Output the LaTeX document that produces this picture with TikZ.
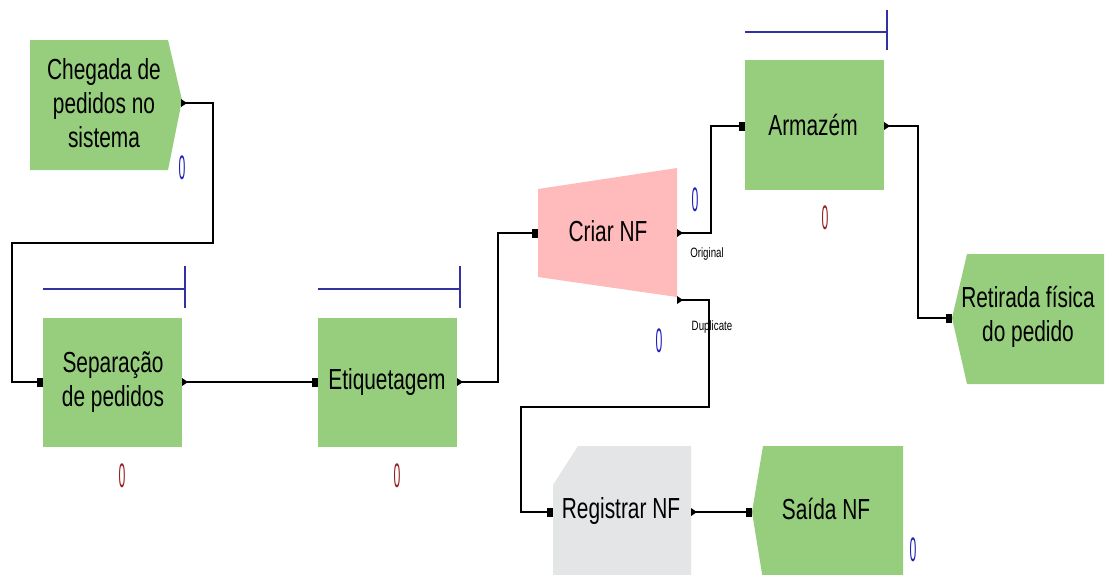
\documentclass[tikz,border=0pt]{standalone}
\usepackage{fontspec}
\setmainfont{Liberation Sans}[FakeStretch=0.72]
\definecolor{armgreen}{RGB}{150,206,126}
\definecolor{armpink}{RGB}{255,187,187}
\definecolor{armgrey}{RGB}{228,229,231}
\definecolor{resblue}{RGB}{50,50,160}
\definecolor{cntblue}{RGB}{30,30,190}
\definecolor{cntred}{RGB}{150,30,30}
\tikzset{
  lbl/.style={font=\fontsize{29}{34}\selectfont, align=center, inner sep=0pt},
  small/.style={font=\fontsize{13.5}{14}\selectfont, inner sep=0pt},
  cnt/.style={font=\fontsize{34}{34}\selectfont, inner sep=0pt},
  inport/.style={rectangle, fill=black, minimum width=6pt, minimum height=9pt, inner sep=0pt},
  conn/.style={draw=black, line width=1.3pt},
  resline/.style={draw=resblue, line width=1.2pt},
  outtri/.pic={\fill[black] (-2,-4) -- (4,0) -- (-2,4) -- cycle;}
}
\newcommand\zcount{\scalebox{0.5}[1]{0}}
\begin{document}
\begin{tikzpicture}[x=1pt,y=-1pt]
\useasboundingbox (0,0) rectangle (1113,574);
\fill[white] (0,0) rectangle (1113,574);

% shapes
\fill[armgreen] (30,40) -- (168,40) -- (182,100) -- (168,170) -- (30,170) -- cycle;
\fill[armgreen] (43,318) rectangle (182,447);
\fill[armgreen] (318,318) rectangle (457,447);
\fill[armpink] (538,189) -- (677,168) -- (677,297) -- (538,277) -- cycle;
\fill[armgreen] (745,60) rectangle (884,190);
\fill[armgreen] (967,254) -- (1104,254) -- (1104,384) -- (967,384) -- (952,318) -- cycle;
\fill[armgrey] (553,485) -- (578,446) -- (691,446) -- (691,580) -- (553,580) -- cycle;
\fill[armgreen] (763,446) -- (903,446) -- (903,580) -- (763,580) -- (752,512) -- cycle;

% labels
\node[lbl] (cheg) at (104,103) {Chegada de\\pedidos no\\sistema};
\node[lbl] (sep) at (113,382) {Separação\\de pedidos};
\node[lbl] (etiq) at (387,382) {Etiquetagem};
\node[lbl] (criar) at (608,231) {Criar NF};
\node[lbl] (arm) at (813,125) {Armazém};
\node[lbl] (ret) at (1028,317) {Retirada física\\do pedido};
\node[lbl] (reg) at (621,511) {Registrar NF};
\node[lbl] (said) at (826,509) {Saída NF};

\node[small] (orig) at (707,254) {Original};
\node[small] (dupl) at (712,327) {Duplicate};

% resource lines
\draw[resline] (43,289) -- (185,289) (185,266) -- (185,308);
\draw[resline] (318,289) -- (460,289) (460,266) -- (460,308);
\draw[resline] (745,32) -- (887,32) (887,10) -- (887,50);

% counters
\node[cnt, text=cntblue] (c1) at (182,168) {\zcount};
\node[cnt, text=cntred] (c2) at (122,476) {\zcount};
\node[cnt, text=cntred] (c3) at (397,476) {\zcount};
\node[cnt, text=cntblue] (c4) at (695,200) {\zcount};
\node[cnt, text=cntblue] (c5) at (659,341) {\zcount};
\node[cnt, text=cntred] (c6) at (825,218) {\zcount};
\node[cnt, text=cntblue] (c7) at (913,550) {\zcount};
\node[cnt, text=cntblue] (c8) at (1116,361) {\zcount};

% ports
\coordinate (chegOut) at (183,103);
\node[inport] (sepIn) at (40,382) {};
\coordinate (sepOut) at (184,382);
\node[inport] (etiqIn) at (315,382) {};
\coordinate (etiqOut) at (459,382);
\node[inport] (criarIn) at (535,233) {};
\coordinate (origOut) at (679,233);
\coordinate (dupOut) at (679,300);
\node[inport] (armIn) at (742,126) {};
\coordinate (armOut) at (886,126);
\node[inport] (retIn) at (949,318) {};
\node[inport] (regIn) at (550,512) {};
\coordinate (regOut) at (693,512);
\node[inport] (saidaIn) at (749,512) {};

% connectors
\draw[conn] (chegOut) -- (213,103) |- (12,243) |- (sepIn);
\draw[conn] (sepOut) -- (etiqIn);
\draw[conn] (etiqOut) -- (498,382) |- (criarIn);
\draw[conn] (origOut) -- (711,233) |- (armIn);
\draw[conn] (dupOut) -- (709,300) |- (521,407) |- (regIn);
\draw[conn] (regOut) -- (saidaIn);
\draw[conn] (armOut) -- (918,126) |- (retIn);

\foreach \p in {chegOut,sepOut,etiqOut,origOut,dupOut,armOut,regOut}
  \pic at (\p) {outtri};
\end{tikzpicture}
\end{document}
